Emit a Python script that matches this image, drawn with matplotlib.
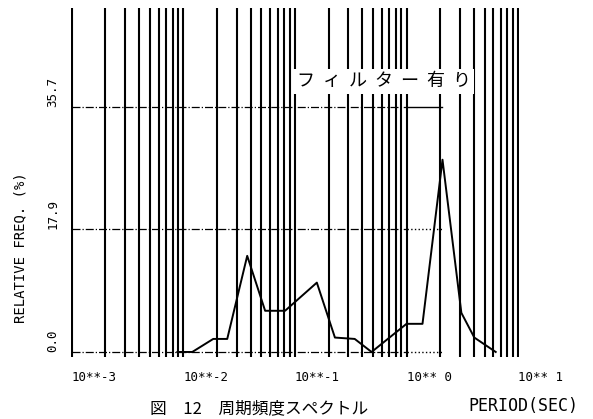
import numpy as np
import matplotlib
matplotlib.use('Agg')
import matplotlib.pyplot as plt
from matplotlib.ticker import LogLocator, NullFormatter, FixedLocator

# --- data ---
period = [0.00883, 0.0120, 0.0185, 0.0247, 0.0373, 0.054, 0.0815, 0.157,
          0.228, 0.343, 0.486, 1.0, 1.39, 2.1, 3.1, 4.05, 6.3]
rel_freq = [0.0, 0.0, 1.9, 1.9, 14.0, 6.0, 6.0, 10.1,
            2.1, 1.9, 0.0, 4.1, 4.1, 28.0, 5.7, 2.1, 0.0]

ref_levels = [0.0, 17.9, 35.7]
ref_labels = ['0.0', '17.9', '35.7']
ref_span = [1e-3, 1.0]          # dash-dot part
ref_tail = [1.0, 2.1]           # short segment past 10**0
tail_styles = [':', ':', '-']

decades = [1e-3, 1e-2, 1e-1, 1e0, 1e1]
decade_labels = ['10**-3', '10**-2', '10**-1', '10** 0', '10** 1']

MONO = 'DejaVu Sans Mono'
JP = ['Noto Sans CJK JP', 'DejaVu Sans']

fig = plt.figure(figsize=(5.93, 4.19), dpi=100, facecolor='white')
ax = fig.add_axes([0.1197, 0.148, 0.7555, 0.833])
ax.set_xscale('log')
ax.set_xlim(10 ** -3.008, 10 ** 1.008)
ax.set_ylim(-0.73, 50.1)

for s in ax.spines.values():
    s.set_visible(False)

# vertical log grid (1..9 in every decade)
ax.xaxis.set_major_locator(FixedLocator(decades))
ax.xaxis.set_minor_locator(LogLocator(base=10, subs=np.arange(2, 10)))
ax.xaxis.set_minor_formatter(NullFormatter())
ax.grid(True, which='both', axis='x', color='black', linewidth=1.5)
ax.set_xticklabels(decade_labels, fontfamily=MONO, fontsize=9)
for lab in ax.get_xticklabels():
    lab.set_ha('left')
ax.tick_params(axis='x', which='both', length=0, pad=10)

# horizontal reference levels
for lev, st in zip(ref_levels, tail_styles):
    ax.plot(ref_span, [lev, lev], color='black', lw=0.9, ls='-.')
    ax.plot(ref_tail, [lev, lev], color='black', lw=1.0, ls=st)

ax.set_yticks(ref_levels)
ax.set_yticklabels(ref_labels, fontfamily=MONO, fontsize=9)
for lab in ax.get_yticklabels():
    lab.set_rotation(90)
    lab.set_va('bottom')
    lab.set_ha('right')
ax.tick_params(axis='y', length=0, pad=8.5)

# spectrum curve
ax.plot(period, rel_freq, color='black', lw=1.4)

ax.text(0.504, 0.79, 'フ  ィ  ル  タ  ー  有  り', transform=ax.transAxes,
        ha='left', va='center', fontsize=13, family=JP,
        bbox=dict(facecolor='white', edgecolor='none', pad=2.5))

fig.text(20 / 593, 1 - 248 / 419, 'RELATIVE FREQ. (%)', rotation=90,
         ha='center', va='center', fontfamily=MONO, fontsize=10)
fig.text(578 / 593, 1 - 406 / 419, 'PERIOD(SEC)', ha='right', va='center',
         fontfamily=MONO, fontsize=12)
fig.text(150 / 593, 2 / 419, '図　12　周期頻度スペクトル', ha='left', va='bottom',
         fontsize=12, family=JP)

fig.savefig('out.png', dpi=100, facecolor='white')
